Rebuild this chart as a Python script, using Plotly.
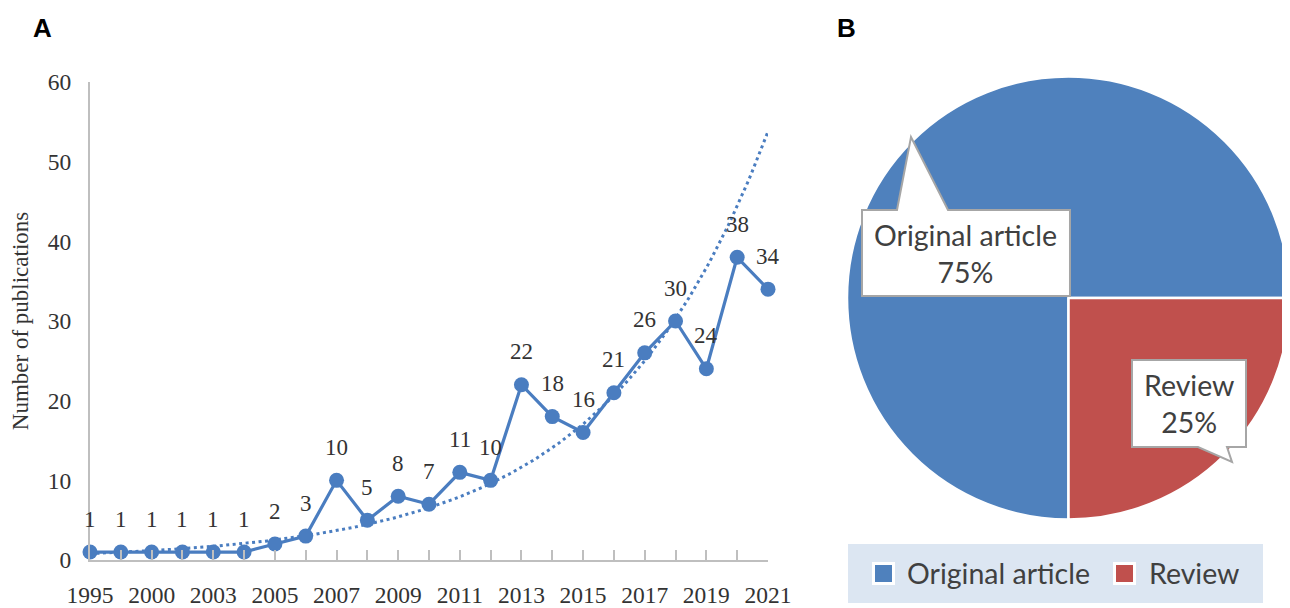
import numpy as np
import plotly.graph_objects as go

# the page places the figure 8px from the top-left corner, so the figure is
# sized to the remaining window and positions are given in window pixels
OFF = 8
W, H = 1290 - OFF, 608 - OFF

# ---------------- data ----------------
years = ["1995", "1999", "2000", "2002", "2003", "2004", "2005", "2006", "2007", "2008",
         "2009", "2010", "2011", "2012", "2013", "2014", "2015", "2016", "2017", "2018",
         "2019", "2020", "2021"]
shown_labels = ["1995", "2000", "2003", "2005", "2007", "2009", "2011", "2013", "2015",
                "2017", "2019", "2021"]
publications = [1, 1, 1, 1, 1, 1, 2, 3, 10, 5, 8, 7, 11, 10, 22, 18, 16, 21, 26, 30, 24, 38, 34]

pie_labels = ["Original article", "Review"]
pie_values = [75, 25]
pie_colors = ["#4F81BD", "#C0504D"]

# ---------------- helpers ----------------
def px(x, y):
    return (x - OFF) / W, 1 - (y - OFF) / H

def path(points):
    s = ""
    for i, (x, y) in enumerate(points):
        u, v = px(x, y)
        s += ("M" if i == 0 else "L") + f"{u:.5f},{v:.5f} "
    return s + "Z"

def text_at(x, y, text, size, family, color, **kw):
    u, v = px(x, y)
    fig.add_annotation(xref="paper", yref="paper", x=u, y=v, showarrow=False, text=text,
                       xanchor=kw.get("xanchor", "center"), yanchor="middle",
                       font=dict(family=family, size=size, color=color))

def rect(x0, y0, x1, y1, fill, layer="above"):
    u0, v0 = px(x0, y0)
    u1, v1 = px(x1, y1)
    fig.add_shape(type="rect", xref="paper", yref="paper", x0=u0, x1=u1, y0=v1, y1=v0,
                  fillcolor=fill, line=dict(width=0), layer=layer)

idx = np.arange(len(years))
ticktext = [y if y in shown_labels else "" for y in years]

# exponential trendline (least squares on log values, like a spreadsheet trendline)
b, a = np.polyfit(idx, np.log(publications), 1)
tx = np.linspace(0, idx[-1], 200)
ty = np.exp(a + b * tx)

blue = "#4A7DC0"
serif = "Liberation Serif"
sans = "Lato"
txt = "#333333"
gray_txt = "#404040"

fig = go.Figure()
fig.add_trace(go.Scatter(x=tx, y=ty, mode="lines", line=dict(color=blue, width=3, dash="3px,3.5px"),
                         showlegend=False, hoverinfo="skip", cliponaxis=False))
fig.add_trace(go.Scatter(x=idx, y=publications, mode="lines+markers",
                         line=dict(color=blue, width=3.2), marker=dict(color=blue, size=15),
                         showlegend=False, cliponaxis=False))

for i, v in zip(idx, publications):
    fig.add_annotation(x=i, y=v, text=str(v), showarrow=False, yshift=33, yanchor="middle",
                       font=dict(family=serif, size=23, color=txt))

pu0, pv0 = px(847, 73)
pu1, pv1 = px(1290, 523)
fig.add_trace(go.Pie(labels=pie_labels, values=pie_values, sort=False, direction="clockwise",
                     rotation=180, textinfo="none",
                     marker=dict(colors=pie_colors, line=dict(color="white", width=2.5)),
                     domain=dict(x=[pu0, min(pu1, 1)], y=[pv1, pv0]),
                     showlegend=False))

ax0, ay0 = px(90, 560)
ax1, ay1 = px(768, 82)
fig.update_layout(
    width=W, height=H, margin=dict(l=0, r=0, t=0, b=0, autoexpand=False),
    paper_bgcolor="white", plot_bgcolor="white", showlegend=False,
    xaxis=dict(domain=[ax0, ax1], range=[0, idx[-1]], tickvals=list(idx), ticktext=ticktext,
               automargin=False, ticklabelstandoff=13,
               ticks="inside", ticklen=10, tickcolor="#BFBFBF", tickwidth=1.5,
               showline=True, linecolor="#BFBFBF", linewidth=2, showgrid=False, zeroline=False,
               tickfont=dict(family=serif, size=23.5, color=txt)),
    yaxis=dict(domain=[ay0, ay1], range=[0, 60], dtick=10,
               automargin=False, ticklabelstandoff=12,
               showline=True, linecolor="#BFBFBF", linewidth=2, showgrid=False, zeroline=False,
               ticks="", tickfont=dict(family=serif, size=23.5, color=txt),
               title=dict(text="Number of publications", standoff=14,
                          font=dict(family=serif, size=23, color=txt))),
)

# legend box with swatches
rect(848, 544, 1263, 603, "#DCE6F2", layer="below")
legend_items = [(872, 905), (1113, 1147)]
for (sx, tx_), lab, col in zip(legend_items, pie_labels, pie_colors):
    rect(sx, 562, sx + 23, 585, "white")
    rect(sx + 3, 565, sx + 20, 582, col)
    text_at(tx_, 573, lab, 28.5, sans, gray_txt, xanchor="left")

# callouts
fig.add_shape(type="path", xref="paper", yref="paper",
              path=path([(862, 210), (897, 210), (911, 137), (948, 210), (1070, 210),
                         (1070, 296), (862, 296)]),
              fillcolor="white", line=dict(color="#A6A6A6", width=2))
fig.add_shape(type="path", xref="paper", yref="paper",
              path=path([(1132, 360), (1246, 360), (1246, 447), (1227, 447), (1232, 462),
                         (1198, 447), (1132, 447)]),
              fillcolor="white", line=dict(color="#A6A6A6", width=2))

text_at(966, 253, f"{pie_labels[0]}<br>{pie_values[0]}%", 28.5, sans, gray_txt)
text_at(1189, 403, f"{pie_labels[1]}<br>{pie_values[1]}%", 28.5, sans, gray_txt)

# panel labels
text_at(42, 28, "<b>A</b>", 26, "Liberation Sans", "black")
text_at(846, 28, "<b>B</b>", 26, "Liberation Sans", "black")

fig.write_html("out.html")
